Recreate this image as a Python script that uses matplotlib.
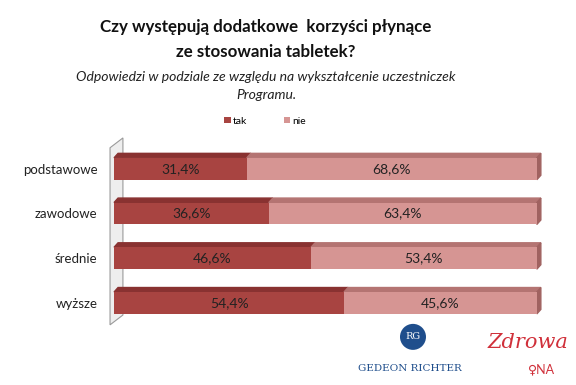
import matplotlib
matplotlib.use("Agg")
import matplotlib.pyplot as plt
from matplotlib.patches import Polygon, Ellipse
import numpy as np

categories = ["podstawowe", "zawodowe", "średnie", "wyższe"]
tak = [31.4, 36.6, 46.6, 54.4]
nie = [68.6, 63.4, 53.4, 45.6]
series_names = ["tak", "nie"]

plt.rcParams['font.family'] = ['Lato', 'DejaVu Sans']

c_tak = "#A84441"
c_tak_top = "#893231"
c_nie = "#D69593"
c_nie_top = "#B47472"
c_nie_side = "#A06260"

fig = plt.figure(figsize=(5.76, 3.85), dpi=100)
ax = fig.add_axes([0.198, 0.169, 0.734, 0.455])
y = np.arange(len(categories))
h = 0.49
ax.barh(y, tak, height=h, color=c_tak, label=series_names[0], zorder=3)
ax.barh(y, nie, left=tak, height=h, color=c_nie, label=series_names[1], zorder=3)
ax.set_xlim(0, 100)
ax.set_ylim(3.38, -0.537)

dx, dy = 0.95, 0.1
for i in range(len(categories)):
    top = y[i] - h / 2
    bot = y[i] + h / 2
    t = tak[i]
    tot = tak[i] + nie[i]
    ax.add_patch(Polygon([[0, top], [dx, top - dy], [t + dx, top - dy], [t, top]],
                         closed=True, color=c_tak_top, zorder=2, clip_on=False))
    ax.add_patch(Polygon([[t, top], [t + dx, top - dy], [tot + dx, top - dy], [tot, top]],
                         closed=True, color=c_nie_top, zorder=2, clip_on=False))
    ax.add_patch(Polygon([[tot, top], [tot + dx, top - dy], [tot + dx, bot - dy], [tot, bot]],
                         closed=True, color=c_nie_side, zorder=2, clip_on=False))
    ax.text(t / 2, y[i], f"{tak[i]:.1f}%".replace(".", ","), ha="center", va="center",
            fontsize=10, color="#222222", zorder=4)
    ax.text(t + nie[i] / 2, y[i], f"{nie[i]:.1f}%".replace(".", ","), ha="center", va="center",
            fontsize=10, color="#222222", zorder=4)

# left wall
ax.add_patch(Polygon([[-0.95, 3.49], [-0.95, -0.47], [2.1, -0.69], [2.1, 3.27]],
                     closed=True, facecolor="#EEEEEE", edgecolor="#9A9A9A", lw=0.8,
                     zorder=1, clip_on=False))

ax.set_yticks(y)
ax.set_yticklabels(categories, fontsize=9.5, color="#222222")
ax.tick_params(axis="y", length=0, pad=12)
ax.set_xticks([])
for s in ax.spines.values():
    s.set_visible(False)

cx = 0.462
fig.text(cx, 0.93, "Czy występują dodatkowe  korzyści płynące", ha="center", va="center",
         fontsize=12.2, fontweight="bold", color="#111111")
fig.text(cx, 0.865, "ze stosowania tabletek?", ha="center", va="center",
         fontsize=12.2, fontweight="bold", color="#111111")
fig.text(cx, 0.80, "Odpowiedzi w podziale ze względu na wykształcenie uczestniczek", ha="center",
         va="center", fontsize=10.1, style="italic", color="#222222")
fig.text(cx, 0.753, "Programu.", ha="center", va="center", fontsize=10.1, style="italic",
         color="#222222")

leg = fig.legend(loc="center", bbox_to_anchor=(0.46, 0.685), ncol=2, frameon=False,
                 fontsize=7.5, handlelength=0.6, handleheight=0.6, columnspacing=3.5,
                 handletextpad=0.2)

# logos
fig.patches.append(Ellipse((0.717, 0.125), 26 / 576, 26 / 385, transform=fig.transFigure,
                           facecolor="#1F4E8C", edgecolor="none", figure=fig))
fig.text(0.717, 0.125, "RG", ha="center", va="center", fontsize=7, color="white",
         family="DejaVu Serif")
fig.text(0.712, 0.042, "GEDEON RICHTER", ha="center", va="center", fontsize=7.5,
         color="#1F4E8C", family="DejaVu Serif")
fig.text(0.917, 0.11, "Zdrowa", ha="center", va="center", fontsize=15, style="italic",
         color="#D0303A", family="DejaVu Serif")
fig.text(0.94, 0.04, "♀NA", ha="center", va="center", fontsize=9, color="#D0303A")

fig.savefig("out.png", dpi=100, facecolor="white")
